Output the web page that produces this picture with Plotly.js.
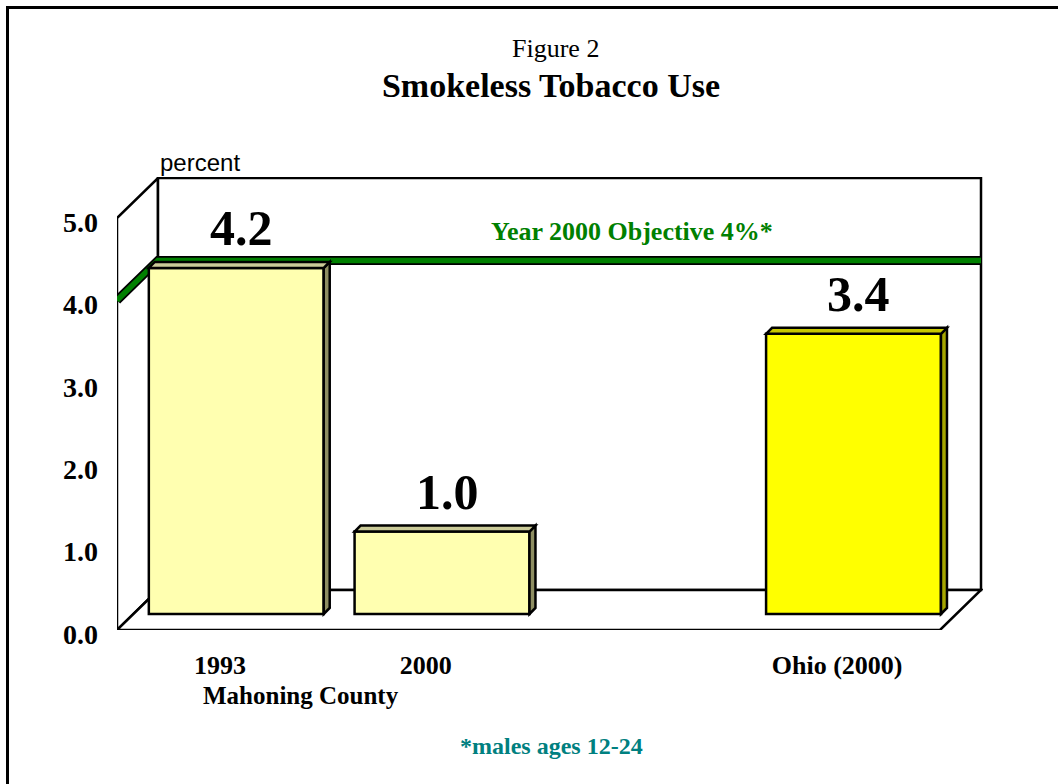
<!DOCTYPE html>
<html>
<head>
<meta charset="utf-8">
<script src="https://cdn.plot.ly/plotly-3.0.1.min.js"></script>
<style>
  html, body { margin: 0; padding: 0; background: #ffffff; }
  #chart { width: 1058px; height: 784px; }
</style>
</head>
<body>
<div id="chart"></div>
<script>
// ---------------- DATA ----------------
const categories = ['1993', '2000', 'Ohio (2000)'];
const values = [4.2, 1.0, 3.4];
const valueLabels = ['4.2', '1.0', '3.4'];
const yTickValues = [0, 1, 2, 3, 4, 5];
const objectiveValue = 4;
const groupLabel = 'Mahoning County';
const figureLabel = 'Figure 2';
const chartTitle = 'Smokeless Tobacco Use';
const yUnitLabel = 'percent';
const footnote = '*males ages 12-24';

// ---------------- LAYOUT GEOMETRY ----------------
const W = 1058, H = 784;
const L = 117, R = 983, T = 177, B = 630;      // plot area in pixels
const slots = [0, 1, 3];                        // horizontal slot of each category
const ux = 4 / 823;                             // x data units per pixel (front plane)
const uy = 5 / 412;                             // y data units per pixel (front plane)
const xMin = -0.5, xFrontMax = 3.5;
const xMax = xMin + (R - L) * ux;
const yMax = (B - T) * uy;
const D = { x: 41 * ux, y: 40 * uy };           // depth of the box
const barDepthFrac = 0.4;
const S = { x: D.x * barDepthFrac, y: D.y * barDepthFrac }; // bar plane shift
const barWidth = 0.85;
const side = { x: 6 * ux, y: 6 * uy };          // bar 3D thickness

const frontColors = ['#FFFFB0', '#FFFFB0', '#FFFF00'];
const sideColors  = ['#8E8E62', '#8E8E62', '#A6A600'];
const topColors   = ['#CACA98', '#CACA98', '#C8C800'];

const serif = 'Liberation Serif, Times New Roman, serif';
const px = v => (v - L) / (R - L);
const py = v => (B - v) / (B - T);

// ---------------- SHAPES ----------------
const shapes = [];
const wallLine = { color: '#000000', width: 2.5 };

// outer frame
shapes.push({
  type: 'rect', xref: 'paper', yref: 'paper',
  x0: px(7.5), x1: px(W + 20), y0: py(7.5), y1: py(H + 20),
  line: { color: '#000000', width: 3 }, fillcolor: 'rgba(0,0,0,0)', layer: 'below'
});
// left wall
shapes.push({
  type: 'path', xref: 'x', yref: 'y', layer: 'below', fillcolor: '#ffffff', line: wallLine,
  path: `M ${xMin},0 L ${xMin},5 L ${xMin + D.x},${5 + D.y} L ${xMin + D.x},${D.y} Z`
});
// back wall
shapes.push({
  type: 'rect', xref: 'x', yref: 'y', layer: 'below', fillcolor: '#ffffff', line: wallLine,
  x0: xMin + D.x, x1: xFrontMax + D.x, y0: D.y, y1: 5 + D.y
});
// floor
shapes.push({
  type: 'path', xref: 'x', yref: 'y', layer: 'below', fillcolor: '#ffffff', line: wallLine,
  path: `M ${xMin},0 L ${xFrontMax},0 L ${xFrontMax + D.x},${D.y} L ${xMin + D.x},${D.y} Z`
});
// objective line (black outline + green)
const objPath = `M ${xMin},${objectiveValue} L ${xMin + D.x},${objectiveValue + D.y} L ${xFrontMax + D.x},${objectiveValue + D.y}`;
shapes.push({ type: 'path', xref: 'x', yref: 'y', layer: 'below', path: objPath, line: { color: '#000000', width: 9 } });
shapes.push({ type: 'path', xref: 'x', yref: 'y', layer: 'below', path: objPath, line: { color: '#008000', width: 5.5 } });

// bar sides and tops (in bar plane axes)
values.forEach((v, i) => {
  const xl = slots[i] - barWidth / 2, xr = slots[i] + barWidth / 2;
  shapes.push({
    type: 'path', xref: 'x2', yref: 'y2', layer: 'above', fillcolor: sideColors[i],
    line: { color: '#000000', width: 2.5 },
    path: `M ${xr},0 L ${xr + side.x},${side.y} L ${xr + side.x},${v + side.y} L ${xr},${v} Z`
  });
  shapes.push({
    type: 'path', xref: 'x2', yref: 'y2', layer: 'above', fillcolor: topColors[i],
    line: { color: '#000000', width: 2.5 },
    path: `M ${xl},${v} L ${xl + side.x},${v + side.y} L ${xr + side.x},${v + side.y} L ${xr},${v} Z`
  });
});

// ---------------- ANNOTATIONS ----------------
const annotations = [
  { text: figureLabel, xref: 'paper', yref: 'paper', x: px(555), y: py(48), showarrow: false,
    xanchor: 'center', yanchor: 'middle', font: { family: serif, size: 26, color: '#000000' } },
  { text: yUnitLabel, xref: 'paper', yref: 'paper', x: px(158), y: py(162), showarrow: false,
    xanchor: 'left', yanchor: 'middle', font: { family: 'Liberation Sans, Arial, sans-serif', size: 24, color: '#000000' } },
  { text: '<b>Year 2000 Objective ' + objectiveValue + '%*</b>', xref: 'paper', yref: 'paper', x: px(632), y: py(231),
    showarrow: false, xanchor: 'center', yanchor: 'middle', font: { family: serif, size: 26, color: '#008000' } },
  { text: '<b>' + groupLabel + '</b>', xref: 'paper', yref: 'paper', x: px(301), y: py(695), showarrow: false,
    xanchor: 'center', yanchor: 'middle', font: { family: serif, size: 25, color: '#000000' } },
  { text: '<b>' + footnote + '</b>', xref: 'paper', yref: 'paper', x: px(551), y: py(746), showarrow: false,
    xanchor: 'center', yanchor: 'middle', font: { family: serif, size: 24, color: '#008080' } }
];
values.forEach((v, i) => {
  annotations.push({
    text: '<b>' + valueLabels[i] + '</b>', xref: 'x2', yref: 'y2', x: slots[i], y: v,
    showarrow: false, xanchor: 'center', yanchor: 'middle', yshift: 40, xshift: 5,
    font: { family: serif, size: 50, color: '#000000' }
  });
});

// ---------------- TRACES ----------------
const traces = [{
  type: 'bar', x: slots, y: values, xaxis: 'x2', yaxis: 'y2', width: barWidth,
  marker: { color: frontColors, line: { color: '#000000', width: 2.5 } },
  hoverinfo: 'skip', showlegend: false
}];

const layout = {
  width: W, height: H,
  margin: { l: L, r: W - R, t: T, b: H - B, pad: 0 },
  paper_bgcolor: '#ffffff', plot_bgcolor: 'rgba(0,0,0,0)',
  showlegend: false,
  title: {
    text: '<b>' + chartTitle + '</b>', xref: 'container', yref: 'container',
    x: 551 / W, xanchor: 'center', y: 1 - 85 / H, yanchor: 'middle',
    font: { family: serif, size: 34, color: '#000000' }
  },
  xaxis: {
    range: [xMin, xMax], tickvals: slots, ticktext: categories, showgrid: false, zeroline: false,
    showline: false, ticks: '', ticklabelstandoff: 17,
    tickfont: { family: serif, size: 26, color: '#000000', weight: 'bold' }, fixedrange: true
  },
  yaxis: {
    range: [0, yMax], tickvals: yTickValues, tickformat: '.1f', showgrid: false, zeroline: false,
    showline: false, ticks: '', ticklabelstandoff: 18, ticklabelshift: 4,
    tickfont: { family: serif, size: 28, color: '#000000', weight: 'bold' }, fixedrange: true
  },
  xaxis2: { overlaying: 'x', range: [xMin - S.x, xMax - S.x], visible: false, fixedrange: true },
  yaxis2: { overlaying: 'y', range: [-S.y, yMax - S.y], visible: false, fixedrange: true },
  shapes: shapes,
  annotations: annotations
};

Plotly.newPlot('chart', traces, layout, { displayModeBar: false, staticPlot: true });
</script>
</body>
</html>
